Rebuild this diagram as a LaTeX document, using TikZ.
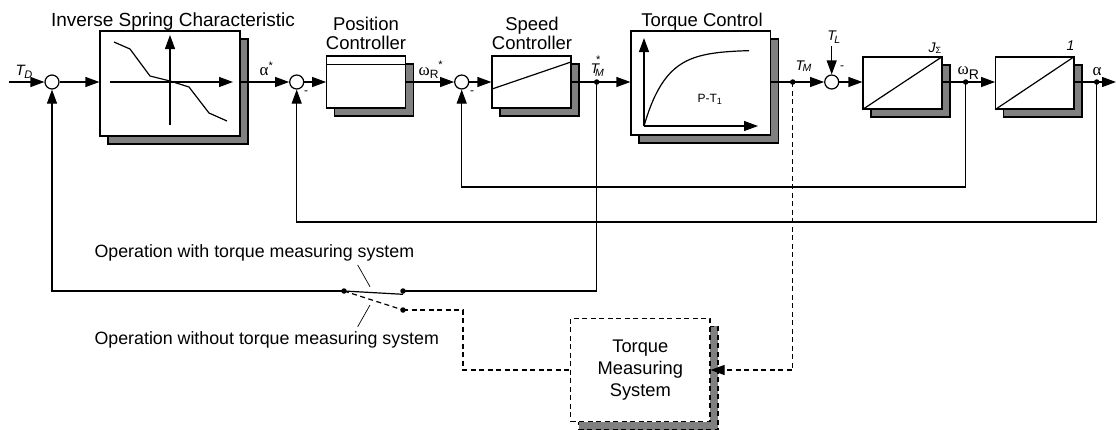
\documentclass[tikz,border=0pt]{standalone}
\usepackage{fontspec}
\setmainfont{Liberation Sans}
\newfontfamily\grk{Liberation Serif}
\usetikzlibrary{arrows.meta,shadows}
\definecolor{shgray}{RGB}{128,128,128}
\newcommand{\fsz}[1]{\fontsize{#1}{#1}\selectfont}
\begin{document}
\begin{tikzpicture}[x=1pt,y=-1pt,line width=1.2pt,
  arr/.style={-{Triangle[length=14pt,width=10pt]}},
  blk/.style={draw,fill=white,line width=1.2pt,inner sep=0pt,
    drop shadow={shadow xshift=8pt,shadow yshift=-8pt,fill=shgray,draw=black,opacity=1,line width=1.2pt}},
  dblk/.style={draw,fill=white,line width=1.2pt,inner sep=0pt,dash pattern=on 5pt off 3.5pt,
    drop shadow={shadow xshift=8pt,shadow yshift=-8pt,fill=shgray,draw=black,opacity=1,line width=1.2pt,dash pattern=on 5pt off 3.5pt}},
  sumj/.style={circle,draw,fill=white,minimum size=14pt,inner sep=0pt,line width=1.2pt},
  dotn/.style={circle,fill=black,minimum size=5.5pt,inner sep=0pt},
  dsh/.style={dash pattern=on 5pt off 3.5pt},
  ttl/.style={font=\fsz{18.5},align=center,inner sep=0pt,anchor=base},
  lbl/.style={anchor=base west,inner sep=0pt},
  thin/.style={line width=0.7pt}]
\useasboundingbox (0,0) rectangle (1116,429);

% blocks
\node[blk,minimum width=140pt,minimum height=105pt] (isc) at (170,83.5) {};
\node[blk,minimum width=79pt,minimum height=52pt] (pos) at (366.2,82) {};
\node[blk,minimum width=79pt,minimum height=52pt] (spd) at (531.5,82) {};
\node[blk,minimum width=139.7pt,minimum height=104pt] (trq) at (700.85,83) {};
\node[blk,minimum width=79pt,minimum height=52pt] (jb) at (902.5,83) {};
\node[blk,minimum width=78.3pt,minimum height=52pt] (ib) at (1034.85,83) {};
\node[dblk,minimum width=139.3pt,minimum height=103.4pt,align=center,
  font=\fontsize{18.3}{22}\selectfont] (tms) at (640.35,370) {Torque\\Measuring\\System};

% titles
\node[ttl,font=\fsz{19}] (tisc) at (173,26) {Inverse Spring Characteristic};
\node[ttl] (tpos) at (366,30) {Position};
\node[ttl] (tpos2) at (366,49) {Controller};
\node[ttl] (tspd) at (532,30) {Speed};
\node[ttl] (tspd2) at (532,49) {Controller};
\node[ttl] (ttrq) at (702,26.5) {Torque Control};

% block internals
\draw[arr] (110,82) -- (233,82);
\draw[arr] (170,125) -- (170,35);
\draw (114,42) -- (130,49) -- (150,76) -- (170,81) -- (189,87) -- (209,113) -- (227,121);
\draw ([yshift=-9pt]pos.north west) -- ([yshift=-9pt]pos.north east);
\draw (492,89) -- (571,62);
\draw[arr] (644,126) -- (644,38);
\draw[arr] (644,126) -- (758,126);
\draw plot[domain=0:105,samples=60,smooth] ({644+\x},{126-76*(1-exp(-\x/22))});
\node[lbl,font=\fsz{12}] (lpt) at (697,102) {P-T\raisebox{-2.5pt}{\fsz{9}1}};
\draw (jb.south west) -- (jb.north east);
\draw (ib.south west) -- (ib.north east);

% junctions and dots
\node[sumj] (s1) at (52,82) {};
\node[sumj] (s2) at (296.7,82) {};
\node[sumj] (s3) at (461.7,82) {};
\node[sumj] (s4) at (831.7,82) {};
\node[dotn] (d1) at (596.7,82) {};
\node[dotn] (d2) at (792.7,82) {};
\node[dotn] (d3) at (965.7,82) {};
\node[dotn] (d4) at (1096.7,82) {};
\node[dotn] (w0) at (344,291) {};
\node[dotn] (w1) at (403,291) {};
\node[dotn] (w2) at (403,310) {};
\coordinate (in) at (9,82);
\coordinate (out) at (1116,82);
\coordinate (tl) at (831.7,46);
\coordinate (wc) at (403,294.3);
\coordinate (fb1) at (0,187);
\coordinate (fb2) at (0,222);
\coordinate (tx) at (463,0);

% main path
\draw[arr] (in) -- (s1);
\draw[arr] (s1) -- (s1 -| isc.west);
\draw[arr] (s2 -| isc.east) -- (s2);
\draw[arr] (s2) -- (s2 -| pos.west);
\draw[arr] (s3 -| pos.east) -- (s3);
\draw[arr] (s3) -- (s3 -| spd.west);
\draw[arr] (d1 -| spd.east) -- (d1 -| trq.west);
\draw[arr] (s4 -| trq.east) -- (s4);
\draw[arr] (tl) -- (s4);
\draw[arr] (s4) -- (s4 -| jb.west);
\draw[arr] (d3 -| jb.east) -- (d3 -| ib.west);
\draw[arr] (d4 -| ib.east) -- (out);

% feedbacks
\draw[arr] (d3.center) -- (d3 |- fb1) -| (s3);
\draw[arr] (d4.center) -- (d4 |- fb2) -| (s2);
\draw (d1.center) -- (d1 |- w1) -- (w1.center);
\draw[arr] (w0.center) -| (s1);
\draw (w0.center) -- (wc);
\draw[dsh] (w0.center) -- (w2.center);
\draw[dsh] (w2.center) -- (w2 -| tx) |- (tms.west);
\draw[dsh,arr] (d2.center) |- (tms.east);

% switch annotations
\node[lbl,font=\fsz{17.8}] (op1) at (94,257.7) {Operation with torque measuring system};
\node[lbl,font=\fsz{17.8}] (op2) at (94,344) {Operation without torque measuring system};
\coordinate (p1a) at (357.7,265);
\coordinate (p1b) at (370,286.7);
\coordinate (p2a) at (357.7,326.7);
\coordinate (p2b) at (370,305);
\draw[thin] (p1a) -- (p1b);
\draw[thin] (p2a) -- (p2b);

% signal labels
\node[lbl] (lTD) at (15,75) {\fsz{15}\itshape T\kern-0.5pt\raisebox{-3pt}{\fsz{11}D}};
\node[lbl] (la1) at (259,75) {{\grk\fsz{17}α}\raisebox{6pt}{\fsz{11}*}};
\node[lbl] (lwr1) at (418,75) {{\grk\fsz{17}ω}\raisebox{-3pt}{\fsz{12}R}\raisebox{7pt}{\fsz{11}*}};
\node[lbl] (lTM1) at (590,73.3) {\itshape\fsz{14}T\kern-4pt\rlap{\raisebox{-3.4pt}{\fsz{10.5}M}}\kern1pt\raisebox{9.5pt}{\upshape\fsz{11}*}};
\node[lbl] (lTM) at (795,70) {\itshape\fsz{14}T\kern-1.5pt\raisebox{-1.7pt}{\fsz{10.5}M}};
\node[lbl] (lTL) at (826.7,40) {\itshape\fsz{14}T\kern-1.5pt\raisebox{-3pt}{\fsz{10.5}L}};
\node[lbl] (lJ) at (928,52) {{\itshape\fsz{14}J}\raisebox{-1pt}{\fsz{9}Σ}};
\node[lbl] (l1) at (1066,50) {\itshape\fsz{14}1};
\node[lbl] (lwr) at (957,74) {{\grk\fsz{17}ω}\raisebox{-5pt}{\fsz{14}R}};
\node[lbl] (la) at (1092,75) {{\grk\fsz{17}α}};
\node[font=\fsz{12},inner sep=0pt] (m2) at (306,93) {-};
\node[font=\fsz{12},inner sep=0pt] (m3) at (472,93) {-};
\node[font=\fsz{12},inner sep=0pt] (m4) at (842,68) {-};
\end{tikzpicture}
\end{document}
